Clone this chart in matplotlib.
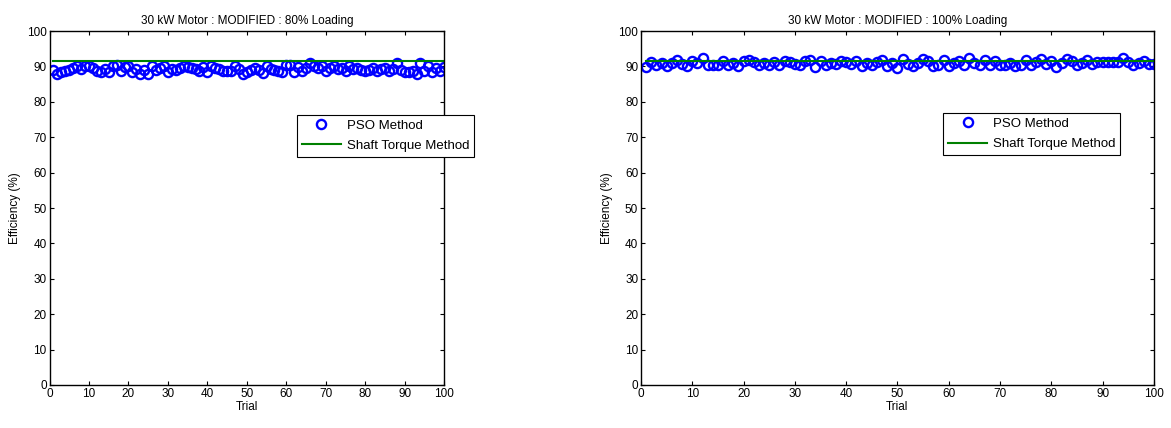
import matplotlib.pyplot as plt
import numpy as np

plt.rcParams['font.family'] = ['Liberation Sans', 'DejaVu Sans']
plt.rcParams['font.size'] = 8.5

trials = np.arange(1, 101)

# PSO efficiency estimates, 80% loading
pso_80 = [89, 87.8, 88.5, 88.8, 89, 89.5, 90, 89.2, 90, 90.2,
          89.5, 88.8, 88.5, 89.2, 88.3, 90.2, 90.3, 88.8, 89.8, 90,
          88.5, 89.3, 87.8, 89, 88, 90, 89, 89.5, 90.2, 88.5,
          89.2, 89, 89.5, 90, 89.8, 89.5, 89.2, 88.6, 89.8, 88.3,
          90, 89.5, 89.2, 88.7, 88.6, 88.8, 90, 89.2, 88, 88.3,
          89, 89.5, 89, 88.2, 90, 89.3, 89, 88.6, 88.5, 90.5,
          90.3, 88.5, 89.8, 88.7, 89.5, 91, 90.2, 89.5, 90, 88.8,
          89.5, 90, 89.2, 89.5, 88.8, 90, 89.3, 89.5, 89, 88.7,
          89, 89.5, 88.7, 89.2, 89.5, 88.8, 89.3, 91, 89, 88.5,
          88.5, 88.6, 88, 91, 88.8, 90, 88.5, 89.5, 88.8, 89.8]

# PSO efficiency estimates, 100% loading
pso_100 = [89.7, 91.3, 90.5, 91, 90.2, 91, 91.8, 90.8, 90, 91.5,
           91, 92.3, 90.5, 90.5, 90.3, 91.5, 90.5, 91, 90.2, 91.5,
           91.8, 91.2, 90.5, 91, 90.5, 91.3, 90.3, 91.5, 91.2, 90.8,
           90.3, 91.5, 91.8, 89.7, 91.5, 90.5, 91, 90.8, 91.5, 91.2,
           90.7, 91.5, 90.2, 91, 90.5, 91.2, 91.8, 90.2, 91, 89.5,
           92, 90.8, 90, 91, 92, 91.5, 90.2, 90.5, 91.8, 90.2,
           91, 91.5, 90.3, 92.5, 91, 90.5, 91.8, 90.3, 91.5, 90.5,
           90.3, 91, 90, 90.5, 91.8, 90.5, 91.2, 92, 90.8, 91.5,
           89.8, 91, 92, 91.5, 90.5, 91, 91.8, 90.7, 91.2, 91.2,
           91.3, 91.3, 91.2, 92.3, 91.2, 90.5, 91, 91.5, 90.7, 90.8]

# shaft torque reference efficiency
torque_80 = 91.6
torque_100 = 91.4

fig = plt.figure(figsize=(11.71, 4.28), dpi=100)
ax1 = fig.add_axes([0.0423, 0.1005, 0.337, 0.827])
ax2 = fig.add_axes([0.5474, 0.1005, 0.438, 0.827])

panels = [
    (ax1, pso_80, torque_80, '30 kW Motor : MODIFIED : 80% Loading', (0.627, 0.763)),
    (ax2, pso_100, torque_100, '30 kW Motor : MODIFIED : 100% Loading', (0.589, 0.768)),
]

for ax, pso, torque, title, anchor in panels:
    ax.plot(trials, pso, 'o', mfc='none', mec='#0000ff', ms=6.6, mew=1.7,
            label='PSO Method')
    ax.plot([1, 100], [torque, torque], color='#008000', lw=1.5,
            label='Shaft Torque Method')
    ax.set_xlim(0, 100)
    ax.set_ylim(0, 100)
    ax.set_xticks(np.arange(0, 101, 10))
    ax.set_yticks(np.arange(0, 101, 10))
    ax.tick_params(direction='in', top=True, right=True, length=3, width=0.8,
                   pad=2, labelsize=8.5)
    for s in ax.spines.values():
        s.set_linewidth(1)
    ax.set_title(title, fontsize=8.5, pad=5)
    ax.set_xlabel('Trial', fontsize=8.5, labelpad=1)
    ax.set_ylabel('Efficiency (%)', fontsize=8.5, labelpad=4)
    leg = ax.legend(loc='upper left', bbox_to_anchor=anchor, fancybox=False,
                    framealpha=1, edgecolor='black', fontsize=9.5,
                    borderaxespad=0, handlelength=3.0, handletextpad=0.45,
                    borderpad=0.35, labelspacing=0.6)
    leg.get_frame().set_linewidth(0.8)

fig.savefig('out.png', dpi=100)
